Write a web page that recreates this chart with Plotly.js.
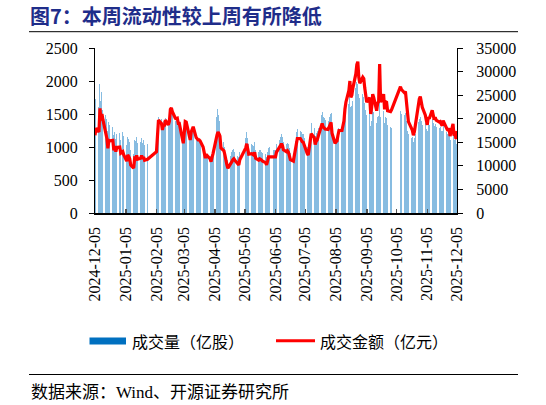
<!DOCTYPE html>
<html>
<head>
<meta charset="utf-8">
<script src="https://cdn.plot.ly/plotly-3.0.1.min.js"></script>
<style>html,body{margin:0;padding:0;background:#fff;}#chart{width:546px;height:405px;}</style>
</head>
<body>
<div id="chart"></div>
<script>
// Trading calendar: weekdays from start to end, excluding exchange holidays
const startDate = '2024-12-05';
const endDate = '2025-12-05';
const holidays = ['2025-01-01','2025-01-28','2025-01-29','2025-01-30','2025-01-31','2025-02-03','2025-02-04',
  '2025-04-04','2025-05-01','2025-05-02','2025-05-05','2025-06-02',
  '2025-10-01','2025-10-02','2025-10-03','2025-10-06','2025-10-07','2025-10-08'];

// 成交量（亿股）, one value per trading day
const volume = [
  // 2024-12
  1720,1650,1600,1960,1700,1840,1560,1480,1420,1250,1380,1340,1300,1180,1230,1120,1200,1210,1100,
  // 2025-01
  1230,1160,1030,1150,1120,1080,960,900,1100,1090,1150,1060,1080,1130,1060,1100,1030,1040,
  // 2025-02
  1050,1330,1450,1420,1330,1400,1380,1440,1380,1430,1520,1530,1480,1400,1390,1400,1330,1320,
  // 2025-03
  1100,1080,1200,1300,1290,1120,1100,1210,1240,1260,1140,1110,1100,1100,1090,1010,950,880,880,900,860,
  // 2025-04
  860,920,990,1460,1570,1480,1400,1130,1080,1000,900,850,800,870,920,950,970,930,860,850,930,
  // 2025-05
  1130,1230,1140,1040,1050,1030,1020,1070,960,930,960,950,930,910,890,850,920,990,1000,
  // 2025-06
  960,950,960,1040,1110,1150,1190,1150,1080,1050,1060,1040,980,910,890,990,1090,1220,1270,1250,
  // 2025-07
  1220,1200,1200,1140,1000,980,1080,1190,1360,1290,1160,1210,1240,1290,1480,1530,1460,1440,1410,1400,1450,1500,1510,
  // 2025-08
  1250,1120,1140,1150,1230,1290,1290,1340,1420,1500,1560,1650,1780,1600,1620,1700,1900,1980,1960,1800,1750,
  // 2025-09
  1800,1760,1660,1560,1480,1530,1320,1400,1570,1530,1360,1450,1470,1900,1450,1550,1370,1450,1440,1340,1300,1290,
  // 2025-10
  1540,1500,1480,1520,1400,1250,1200,1130,1150,1080,1130,1200,1380,1420,1450,1400,1340,
  // 2025-11
  1370,1280,1250,1350,1330,1420,1360,1320,1350,1310,1290,1300,1250,1240,1320,1220,1200,1190,1220,1110,
  // 2025-12
  1230,1100,1120,1050,1150
];

// 成交金额（亿元）, one value per trading day
const amount = [
  // 2024-12
  16500,18000,17200,22200,19600,21000,19800,17000,15800,13700,15400,15300,15400,13300,14200,13000,13900,14000,12700,
  // 2025-01
  13000,12300,11000,12300,12000,11500,10200,9500,11600,11500,12200,11400,11600,12200,11500,11900,11200,11400,
  // 2025-02
  13000,17800,19700,19000,17600,18700,18400,19700,18700,19400,22000,22300,21500,20100,20000,20100,19000,19000,
  // 2025-03
  15100,14800,17000,19400,19300,15800,15500,17200,17800,18300,16000,15700,15500,15500,15300,14000,13000,11900,11900,12200,11500,
  // 2025-04
  10900,11800,12600,16500,17200,16800,16300,13800,13200,12300,11000,10200,9500,10400,10900,11300,11500,11200,10300,10200,11300,
  // 2025-05
  13800,14700,13700,12500,12600,12400,12300,12900,11600,11200,11500,11400,11200,11000,10700,10200,11000,11900,11900,
  // 2025-06
  11900,11800,11900,12900,13800,14300,14700,14300,13400,13000,13200,12900,12100,11300,11000,12300,13500,15200,15800,15800,
  // 2025-07
  15300,15100,15000,14300,12600,12300,13500,14800,16800,16000,14500,15200,15500,16200,18500,19000,18300,18100,17800,17700,18300,19000,19200,
  // 2025-08
  16900,14800,15100,15300,16500,17500,17500,18300,19500,22000,23500,26000,28000,24500,25000,26500,29500,31500,32100,28800,27500,
  // 2025-09
  28800,28500,26500,24800,23500,24500,21000,22500,25200,24500,21700,23300,23600,31600,23500,25200,22000,23600,23500,21700,21500,21900,
  // 2025-10
  26800,26200,25500,25800,23500,20500,19400,18000,17500,16500,17200,18600,23000,24200,24700,23500,22400,
  // 2025-11
  20800,19200,18700,20300,20000,21800,20500,19800,20300,19700,19300,19400,18900,18500,19600,17900,17800,17500,18000,16300,
  // 2025-12
  18900,16400,16800,15700,17400
];

const tickDates = ['2024-12-05','2025-01-05','2025-02-05','2025-03-05','2025-04-05','2025-05-05','2025-06-05',
  '2025-07-05','2025-08-05','2025-09-05','2025-10-05','2025-11-05','2025-12-05'];
const leftTicks = [0,500,1000,1500,2000,2500];
const rightTicks = [0,5000,10000,15000,20000,25000,30000,35000];
const seriesNames = ['成交量（亿股）','成交金额（亿元）'];
const titleText = '图7：本周流动性较上周有所降低';
const sourceText = '数据来源：<span style="font-family:\'Liberation Serif\'">Wind</span>、开源证券研究所';

function tradingDays(s, e, hol) {
  const out = [];
  const h = new Set(hol);
  let d = new Date(s + 'T00:00:00Z');
  const end = new Date(e + 'T00:00:00Z');
  while (d <= end) {
    const wd = d.getUTCDay();
    const iso = d.toISOString().slice(0, 10);
    if (wd !== 0 && wd !== 6 && !h.has(iso)) out.push(iso);
    d = new Date(d.getTime() + 86400000);
  }
  return out;
}
const dates = tradingDays(startDate, endDate, holidays);
const n = Math.min(dates.length, volume.length, amount.length);

const W = 546, H = 405;
const M = {l: 95, r: 89, t: 48, b: 192};
const pw = W - M.l - M.r, ph = H - M.t - M.b;
const px = x => (x - M.l) / pw;
const py = y => (H - M.b - y) / ph;

const serif = "'Liberation Serif', 'Times New Roman', serif";
const cjk = "'Noto Sans CJK SC', 'Noto Sans', sans-serif";

const traces = [
  {
    type: 'bar', x: dates.slice(0, n), y: volume.slice(0, n), yaxis: 'y', name: seriesNames[0],
    width: 86400000, marker: {color: '#0070C0', opacity: 0.47, line: {width: 0}}, showlegend: false
  },
  {
    type: 'scatter', mode: 'lines', x: dates.slice(0, n), y: amount.slice(0, n), yaxis: 'y2', name: seriesNames[1],
    line: {color: '#FF0000', width: 3.2}, showlegend: false
  }
];

const layout = {
  width: W, height: H,
  margin: M,
  paper_bgcolor: '#fff', plot_bgcolor: '#fff',
  showlegend: false,
  bargap: 0,
  title: {
    text: '<b>' + titleText + '</b>', xref: 'container', yref: 'container',
    x: 30 / W, xanchor: 'left', y: 1 - 16.5 / H, yanchor: 'middle',
    font: {family: cjk, size: 20, color: '#1F2D8A'}
  },
  xaxis: {
    type: 'date', range: [startDate, endDate],
    tickvals: tickDates, tickformat: '%Y-%m-%d', tickangle: -90,
    ticks: 'inside', ticklen: 4, tickcolor: '#555', tickwidth: 1.5,
    showline: true, linecolor: '#000', linewidth: 1.5,
    showgrid: false, zeroline: false,
    ticklabelstandoff: 6,
    tickfont: {family: serif, size: 16, color: '#000'}
  },
  yaxis: {
    range: [0, 2500], tickvals: leftTicks, tickformat: 'd',
    ticks: 'outside', ticklen: 5, tickcolor: '#000',
    showline: true, linecolor: '#000', linewidth: 1,
    showgrid: false, zeroline: false,
    ticklabelstandoff: 8,
    tickfont: {family: serif, size: 16, color: '#000'}
  },
  yaxis2: {
    range: [0, 35000], tickvals: rightTicks, tickformat: 'd', overlaying: 'y', side: 'right',
    ticks: 'outside', ticklen: 5, tickcolor: '#000',
    showline: true, linecolor: '#000', linewidth: 1,
    showgrid: false, zeroline: false,
    ticklabelstandoff: 10,
    tickfont: {family: serif, size: 16, color: '#000'}
  },
  shapes: [
    {type: 'line', xref: 'paper', yref: 'paper', x0: px(29), x1: px(518), y0: py(31.7), y1: py(31.7), line: {color: '#000', width: 1}},
    {type: 'line', xref: 'paper', yref: 'paper', x0: px(29), x1: px(518), y0: py(374.5), y1: py(374.5), line: {color: '#000', width: 1}},
    {type: 'rect', xref: 'paper', yref: 'paper', x0: px(89.5), x1: px(126), y0: py(344.5), y1: py(337.5), fillcolor: '#0070C0', line: {width: 0}},
    {type: 'line', xref: 'paper', yref: 'paper', x0: px(276), x1: px(315), y0: py(340.8), y1: py(340.8), line: {color: '#FF0000', width: 3}}
  ],
  annotations: [
    {xref: 'paper', yref: 'paper', x: px(130), y: py(341), xanchor: 'left', yanchor: 'middle', showarrow: false,
     text: seriesNames[0], font: {family: cjk, size: 16, color: '#000'}},
    {xref: 'paper', yref: 'paper', x: px(318), y: py(341), xanchor: 'left', yanchor: 'middle', showarrow: false,
     text: seriesNames[1], font: {family: cjk, size: 16, color: '#000'}},
    {xref: 'paper', yref: 'paper', x: px(29), y: py(390.5), xanchor: 'left', yanchor: 'middle', showarrow: false,
     text: sourceText, font: {family: cjk, size: 17, color: '#000'}}
  ]
};

Plotly.newPlot('chart', traces, layout, {displayModeBar: false, staticPlot: true});
</script>
</body>
</html>
